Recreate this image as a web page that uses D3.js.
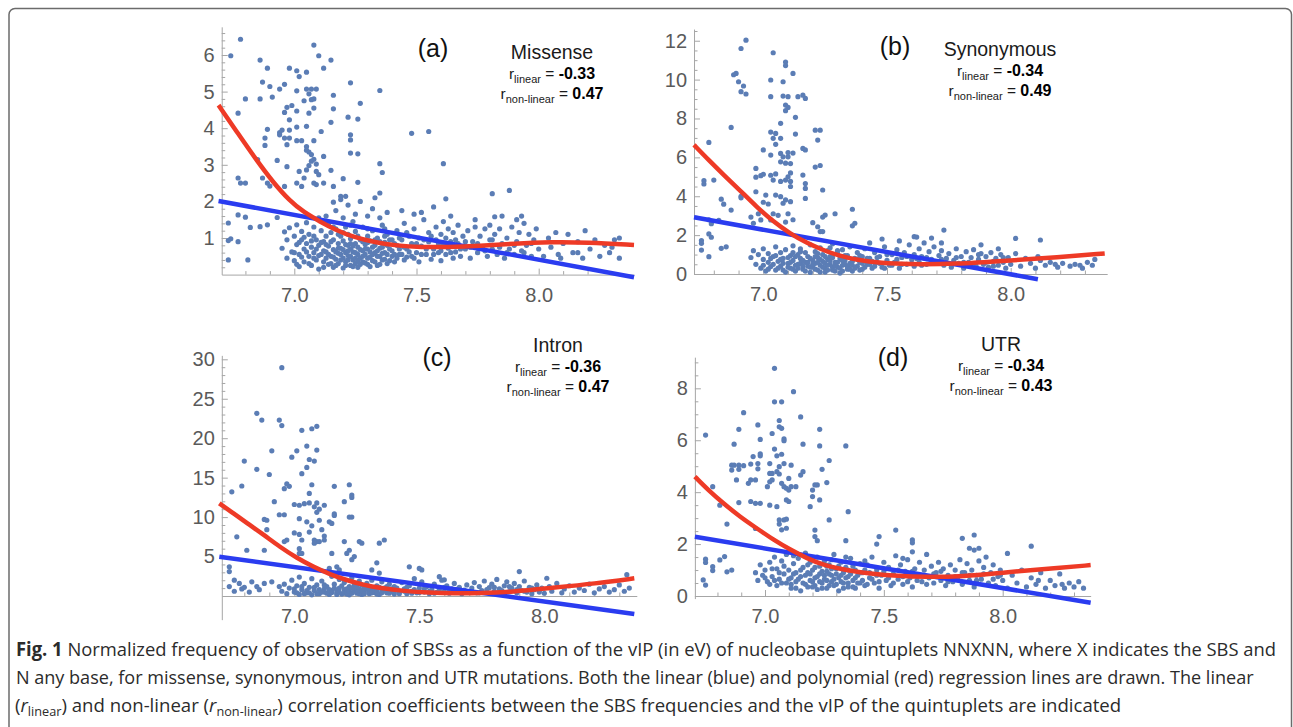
<!DOCTYPE html>
<html>
<head>
<meta charset="utf-8">
<script src="https://cdn.jsdelivr.net/npm/d3@7"></script>
<style>
  body { margin: 0; background: #fff; }
</style>
</head>
<body>
<svg id="fig" width="1293" height="727"></svg>
<script>
// ---- data (x = vIP in eV, y = normalized frequency) ----

var panelNames = ["Missense", "Synonymous", "Intron", "UTR"];
var panelTags = ["(a)", "(b)", "(c)", "(d)"];
var rLinear = ["-0.33", "-0.34", "-0.36", "-0.34"];
var rNonLinear = ["0.47", "0.49", "0.47", "0.43"];

var xTicks = [7.0, 7.5, 8.0];
var yTicksA = [1, 2, 3, 4, 5, 6];
var yTicksB = [0, 2, 4, 6, 8, 10, 12];
var yTicksC = [5, 10, 15, 20, 25, 30];
var yTicksD = [0, 2, 4, 6, 8];

// linear fits (end points as drawn)
var blueA = [[6.69, 2.01], [8.39, -0.07]];
var blueB = [[6.72, 2.92], [8.11, -0.27]];
var blueC = [[6.70, 4.98], [8.36, -2.28]];
var blueD = [[6.705, 2.28], [8.37, -0.26]];

// polynomial fits (points along the red curve)
var redA = [[6.69, 4.63], [6.77, 3.85], [6.845, 3.13], [6.91, 2.55], [6.98, 2.02], [7.04, 1.70], [7.105, 1.45], [7.17, 1.22], [7.24, 1.03], [7.33, 0.88], [7.42, 0.79], [7.52, 0.75], [7.62, 0.75], [7.76, 0.78], [7.90, 0.85], [8.05, 0.89], [8.20, 0.88], [8.39, 0.81]];
var redB = [[6.72, 6.64], [6.78, 5.85], [6.84, 5.10], [6.906, 4.30], [6.973, 3.45], [7.04, 2.70], [7.108, 2.08], [7.175, 1.60], [7.243, 1.22], [7.31, 0.93], [7.377, 0.72], [7.48, 0.56], [7.58, 0.50], [7.78, 0.51], [7.98, 0.68], [8.19, 0.86], [8.38, 1.06]];
var redC = [[6.70, 11.75], [6.76, 10.4], [6.81, 9.25], [6.876, 7.8], [6.943, 6.2], [7.009, 4.85], [7.076, 3.7], [7.143, 2.75], [7.21, 2.0], [7.276, 1.42], [7.343, 1.0], [7.44, 0.62], [7.54, 0.42], [7.64, 0.33], [7.74, 0.34], [7.88, 0.55], [8.01, 0.97], [8.21, 1.6], [8.36, 2.24]];
var redD = [[6.705, 4.6], [6.765, 4.05], [6.825, 3.57], [6.895, 3.05], [6.965, 2.61], [7.035, 2.17], [7.105, 1.79], [7.175, 1.46], [7.245, 1.19], [7.35, 0.98], [7.455, 0.85], [7.56, 0.77], [7.666, 0.73], [7.834, 0.75], [8.017, 0.92], [8.227, 1.07], [8.37, 1.19]];

// scatter points
var ptsA = [
[6.78,6.43],[6.74,5.98],[7.08,6.27],[7.10,5.98],[7.15,5.86],[7.12,5.64],[6.86,5.86],[6.89,5.64],[6.98,5.64],[7.01,5.57],[7.05,5.53],[7.02,5.41],[6.87,5.26],[6.90,5.14],[6.96,5.20],[6.94,5.07],[7.01,5.02],[7.05,5.07],[7.07,5.07],[7.09,5.07],[7.06,4.94],[7.08,4.80],[7.07,4.78],[7.16,4.90],[7.23,5.24],[7.35,5.03],[6.80,4.80],[6.86,4.80],[6.91,4.85],[6.97,4.57],[6.99,4.62],[7.04,4.75],[7.08,4.55],[7.16,4.53],[7.27,4.68],[6.77,4.41],[6.96,4.43],[7.01,4.47],[7.06,4.41],[7.22,4.30],[7.26,4.25],[7.15,4.16],[6.98,4.23],[6.89,3.97],[6.94,3.88],[6.95,3.95],[6.98,3.95],[6.94,3.82],[7.01,4.03],[7.05,4.05],[7.11,3.91],[6.88,3.73],[6.96,3.73],[6.98,3.73],[7.23,3.82],[7.23,3.68],[7.48,3.86],[7.55,3.91],[7.01,3.66],[7.03,3.66],[7.08,3.66],[7.05,3.50],[7.05,3.40],[7.06,3.35],[7.07,3.28],[7.08,3.15],[7.07,3.10],[7.09,3.02],[7.06,2.98],[6.88,3.53],[6.97,3.55],[7.12,3.23],[7.23,3.32],[7.26,3.30],[7.35,3.03],[6.85,3.14],[6.93,3.12],[6.97,2.95],[7.02,2.82],[7.05,2.86],[7.09,2.82],[7.15,2.85],[7.04,2.64],[7.10,2.73],[7.61,3.03],[7.36,2.79],[6.77,2.64],[6.80,2.50],[6.87,2.64],[6.89,2.50],[6.90,2.42],[6.78,2.50],[6.96,2.41],[7.01,2.50],[7.03,2.41],[7.08,2.50],[7.09,2.46],[7.12,2.50],[7.16,2.41],[7.20,2.62],[7.26,2.52],[7.21,2.14],[7.19,2.14],[7.16,1.98],[7.35,2.23],[7.81,2.21],[7.88,2.30],[7.62,2.07],[6.73,1.41],[6.77,1.63],[6.80,1.57],[6.82,1.29],[6.86,1.31],[6.89,1.36],[6.93,1.56],[6.73,0.93],[6.74,0.98],[6.77,0.90],[6.73,0.40],[6.81,0.40],
[6.95,0.72],[6.96,1.17],[6.97,0.45],[6.97,0.95],[6.98,1.28],[6.99,0.62],[7.00,0.38],[7.00,1.05],[7.01,0.82],[7.01,1.36],[7.02,0.22],[7.02,0.55],[7.03,0.95],[7.03,1.18],[7.04,0.70],[7.04,0.35],[7.05,1.42],[7.05,0.85],[7.06,0.50],[7.06,1.10],[7.07,0.25],[7.07,0.75],[7.08,1.30],[7.08,0.60],[7.09,0.95],[7.09,0.40],[7.10,1.55],[7.10,0.15],[7.10,0.80],[7.11,1.20],[7.11,0.55],
[7.12,0.35],[7.12,0.90],[7.13,0.62],[7.13,1.05],[7.14,0.28],[7.14,0.78],[7.14,1.38],[7.15,0.50],[7.15,1.15],[7.16,0.20],[7.16,0.68],[7.16,0.95],[7.17,0.42],[7.17,1.25],[7.18,0.58],[7.18,0.85],[7.18,0.30],[7.19,1.05],[7.19,0.72],[7.20,0.45],[7.20,0.18],[7.20,0.92],[7.21,1.30],[7.21,0.60],[7.21,0.35],[7.22,0.80],[7.22,1.10],[7.22,0.52],[7.23,0.25],[7.23,0.70],[7.23,0.98],[7.24,0.40],[7.24,1.45],[7.24,0.62],[7.25,0.85],[7.25,0.30],[7.25,1.18],[7.26,0.55],[7.26,0.75],[7.26,0.20],[7.27,0.95],[7.27,0.45],[7.28,0.65],[7.28,1.30],[7.28,0.35],[7.29,0.82],[7.29,0.55],[7.30,1.05],[7.30,0.28],[7.30,0.70],[7.31,0.48],[7.31,0.92],[7.32,0.38],[7.32,1.20],[7.33,0.60],[7.33,0.80],[7.34,0.25],[7.34,1.00],[7.35,0.50],[7.35,0.72],[7.36,1.35],[7.36,0.40],[7.37,0.88],[7.37,0.60],[7.38,0.30],[7.38,1.10],[7.39,0.70],[7.40,0.50],[7.40,0.95],
[7.13,1.60],[7.17,1.75],[7.20,1.55],[7.22,1.90],[7.25,1.65],[7.27,2.00],[7.30,1.60],[7.32,1.80],[7.35,1.55],[7.38,1.70],[7.33,2.10],[7.19,2.05],
[7.41,0.35],[7.42,0.80],[7.42,1.20],[7.43,0.55],[7.44,0.95],[7.45,0.40],[7.45,1.40],[7.46,0.70],[7.47,1.05],[7.48,0.50],[7.48,0.85],[7.49,1.25],[7.50,0.60],[7.51,0.35],[7.51,1.00],[7.52,0.78],[7.53,1.50],[7.54,0.55],[7.55,0.90],[7.55,1.15],[7.56,0.42],[7.57,0.70],[7.58,1.30],[7.58,0.95],[7.59,0.60],[7.60,1.10],[7.60,0.38],[7.61,0.80],[7.61,1.45],[7.62,1.00],[7.62,0.55],[7.63,1.25],[7.63,0.72],[7.64,0.90],[7.65,0.45],[7.65,1.15],[7.66,0.62],[7.67,1.35],[7.67,0.85],[7.68,0.50],[7.69,1.05],[7.70,0.70],
[7.44,1.75],[7.49,1.65],[7.57,1.85],[7.64,1.60],[7.52,1.70],
[7.71,1.20],[7.72,0.45],[7.73,0.90],[7.74,1.30],[7.75,0.60],[7.76,1.05],[7.77,0.75],[7.78,1.25],[7.79,0.50],[7.80,0.95],[7.80,1.35],[7.81,0.70],[7.82,1.10],[7.83,0.55],[7.84,1.25],[7.85,0.85],[7.85,1.60],[7.86,0.45],[7.87,1.00],[7.88,0.70],[7.89,1.30],[7.90,0.55],[7.91,1.50],[7.91,0.90],[7.92,1.15],[7.93,0.65],[7.94,1.40],[7.95,0.80],[7.96,1.10],[7.97,0.50],[7.98,0.95],[7.99,1.25],[8.00,0.70],[7.74,1.50],[7.82,1.58],[7.93,1.60],
[8.02,0.50],[8.04,1.00],[8.05,0.75],[8.07,1.15],[8.09,0.45],[8.10,0.85],[8.12,1.10],[8.14,0.60],[8.16,0.90],[8.18,0.45],[8.19,1.20],[8.21,0.70],[8.23,0.95],[8.25,0.50],[8.27,0.80],[8.29,0.60],[8.31,0.95],[8.33,1.00],[8.33,0.45],[8.30,0.75],[8.08,0.55],[8.16,0.60],
[7.00,0.60],[7.01,0.28],[7.03,0.48],[7.04,1.02],[7.06,0.30],[7.07,0.92],[7.08,0.45],[7.09,0.70],[7.10,0.52],[7.11,0.88],[7.12,0.20],[7.12,0.65],[7.13,0.45],[7.13,0.82],[7.14,0.55],[7.15,0.30],[7.15,0.90],[7.16,0.48],[7.17,0.62],[7.17,0.25],[7.18,0.72],[7.18,1.10],[7.19,0.40],[7.19,0.55],[7.20,0.68],[7.20,1.15],[7.21,0.25],[7.21,0.82],[7.22,0.40],[7.22,0.65],[7.23,0.50],[7.23,0.85],[7.24,0.22],[7.24,0.78],[7.25,0.45],[7.25,0.60],[7.26,0.38],[7.26,1.05],[7.27,0.28],[7.27,0.68],[7.28,0.50],[7.28,0.90],[7.29,0.32],[7.29,0.70],[7.30,0.45],[7.30,0.88],[7.31,0.62],[7.31,0.22],[7.32,0.75],[7.32,0.55],[7.33,0.35],[7.33,0.95],[7.34,0.50],[7.34,0.65],[7.35,0.28],[7.35,0.90],[7.36,0.58],[7.36,0.75],[7.37,0.42],[7.37,1.05],[7.38,0.55],[7.38,0.80],[7.39,0.38],[7.39,0.95],[7.40,0.65],[7.41,0.55],[7.41,0.85],[7.42,0.45],[7.43,0.70],[7.43,1.00],[7.44,0.55],[7.45,0.75],[7.46,0.48],[7.46,1.15],[7.47,0.62],[7.49,0.45],[7.50,0.85],[7.52,0.55],[7.53,0.95],[7.54,0.70],[7.56,1.05],[7.57,0.55],[7.59,0.85],[7.60,0.65],[7.62,0.80],[7.64,0.60],[7.66,0.95],[7.68,0.70],[7.70,0.90],[7.72,0.75],[7.75,0.85],[7.78,0.65],[7.81,0.95],[7.84,0.75],[7.87,0.60],[7.90,0.80],[7.94,0.60],[7.97,0.85],
[7.05,0.62],[7.02,0.88],[7.08,1.05],[7.16,1.30],[7.23,1.35],[7.30,1.25],[7.37,1.25]
];

var ptsB = [
[6.93,12.03],[6.91,11.60],[7.04,11.38],[7.09,10.90],[7.09,10.72],[7.12,10.32],[6.88,10.25],[6.89,10.32],[6.90,9.89],[7.03,9.98],[7.08,9.89],[6.92,9.67],[6.91,9.38],[6.93,9.26],[7.03,9.12],[7.08,9.15],[7.10,9.12],[7.14,9.12],[7.16,9.20],[7.17,9.03],[7.09,8.69],[7.10,8.57],[7.09,8.40],[7.13,8.06],[7.07,7.75],[6.87,7.54],[7.03,7.30],[7.05,7.23],[7.21,7.40],[7.23,7.40],[7.13,7.20],[7.04,6.98],[7.07,6.98],[7.22,6.89],[6.78,6.77],[7.05,6.67],[7.16,6.46],[7.17,6.38],[7.00,6.38],[7.03,6.12],[7.07,6.20],[7.10,6.25],[7.12,6.22],[7.08,6.03],[7.10,6.03],[7.07,5.77],[7.09,5.70],[7.11,5.68],[6.97,5.43],[7.21,5.50],[7.23,5.58],[7.00,5.13],[7.03,5.08],[7.05,5.15],[7.11,5.20],[7.10,5.00],[7.16,5.09],[6.76,4.80],[6.76,4.63],[6.80,4.83],[6.97,4.98],[6.99,5.06],[7.04,4.83],[7.07,4.76],[7.09,4.83],[7.11,4.76],[7.11,4.50],[7.17,4.65],[7.17,4.40],[7.24,4.32],[6.83,3.85],[6.84,3.59],[6.87,3.29],[6.97,4.23],[7.01,4.06],[7.05,4.06],[7.07,3.98],[7.09,3.81],[7.08,3.64],[7.11,3.72],[7.17,3.89],[7.02,3.60],[7.00,3.69],[6.91,4.00],[6.91,3.92],[7.36,3.33],[6.95,2.93],[6.98,3.10],[6.99,2.78],[7.03,2.78],[6.96,2.61],[7.04,3.10],[7.06,3.02],[7.10,3.10],[7.09,2.67],[7.12,2.79],[7.25,3.03],[7.29,3.10],[7.24,2.93],[7.20,2.64],[7.22,2.43],[7.23,2.18],[7.24,2.18],[7.36,2.48],[7.37,2.61],[6.78,2.79],[6.82,2.76],[6.79,2.59],[6.78,2.06],[6.79,1.89],[6.75,1.72],[6.75,1.58],[6.75,1.23],[6.78,0.89],[6.83,1.32],[6.85,1.40],[7.73,2.26],[8.02,1.83],[8.12,1.75],[7.61,1.92],
[6.95,0.85],[6.96,1.20],[6.97,0.50],[6.98,1.00],[6.99,0.30],[7.00,0.75],[7.00,1.30],[7.01,0.15],[7.02,0.60],[7.02,1.05],[7.03,0.38],[7.04,0.90],[7.05,1.40],[7.05,0.20],[7.06,0.65],[7.07,1.10],[7.07,0.40],[7.08,0.80],[7.09,0.10],[7.09,1.25],[7.10,0.55],[7.11,0.95],[7.11,0.30],[7.12,1.45],[7.12,0.70],[7.13,0.15],[7.14,1.00],[7.14,0.50],[7.15,0.80],[7.15,1.30],[7.16,0.25],[7.17,0.60],[7.17,1.10],[7.18,0.40],[7.18,0.90],[7.19,0.08],[7.19,1.50],[7.20,0.70],[7.20,0.35],[7.21,1.15],[7.21,0.55],[7.22,0.20],[7.22,0.85],[7.23,1.35],[7.23,0.45],[7.24,0.65],[7.24,1.00],[7.25,0.10],[7.25,0.30],[7.26,0.75],[7.26,1.20],[7.27,0.50],[7.27,0.90],[7.28,0.20],[7.28,1.55],[7.29,0.60],[7.30,1.05],[7.30,0.35],[7.31,0.80],[7.31,0.05],[7.32,1.25],[7.32,0.45],[7.33,0.70],[7.34,0.25],[7.34,0.95],[7.35,1.40],[7.35,0.55],[7.36,0.15],[7.37,0.80],[7.38,1.10],[7.38,0.40],[7.39,0.60],[7.40,0.90],[7.40,0.25],
[7.41,1.30],[7.42,0.50],[7.43,0.80],[7.44,0.30],[7.45,1.10],[7.46,0.60],[7.47,0.90],[7.48,0.35],[7.49,1.40],[7.50,0.70],[7.51,0.45],[7.52,1.00],[7.53,0.60],[7.54,1.25],[7.55,0.30],[7.56,0.85],[7.57,1.10],[7.58,0.50],[7.59,1.50],[7.60,0.75],[7.61,1.00],[7.61,0.40],[7.62,1.90],[7.63,1.30],[7.63,0.60],[7.64,0.90],[7.65,1.60],[7.66,0.50],[7.67,1.15],[7.68,0.75],[7.69,1.40],[7.70,0.55],
[7.48,1.80],[7.43,1.60],[7.55,1.70],[7.68,1.85],[7.72,1.60],[7.88,1.50],[7.95,1.30],
[7.71,0.95],[7.72,1.20],[7.73,0.45],[7.74,0.80],[7.75,1.05],[7.76,0.35],[7.77,0.70],[7.78,1.30],[7.79,0.55],[7.80,0.90],[7.81,0.30],[7.82,1.15],[7.83,0.60],[7.84,0.85],[7.85,1.25],[7.86,0.40],[7.87,0.75],[7.88,1.05],[7.89,0.50],[7.90,0.90],[7.91,0.35],[7.92,1.10],[7.93,0.65],[7.94,0.80],[7.95,0.45],[7.96,1.00],[7.97,0.60],[7.98,0.30],[7.99,0.85],[8.00,0.50],
[8.02,1.05],[8.04,0.40],[8.06,0.80],[8.08,0.55],[8.10,0.30],[8.12,0.70],[8.14,0.45],[8.16,0.60],[8.19,0.35],[8.21,0.55],[8.24,0.40],[8.26,0.50],[8.29,0.30],[8.31,0.60],[8.33,0.45],[8.34,0.75],[8.11,0.90],[8.18,0.50],[8.28,0.45],
[7.00,0.45],[7.02,0.25],[7.03,0.80],[7.04,0.50],[7.06,0.30],[7.07,0.75],[7.08,0.20],[7.08,0.55],[7.10,0.35],[7.10,0.85],[7.11,0.60],[7.12,0.25],[7.13,0.45],[7.13,0.90],[7.14,0.30],[7.15,0.55],[7.16,0.70],[7.16,0.40],[7.17,0.15],[7.18,0.60],[7.19,0.35],[7.19,0.80],[7.20,0.50],[7.21,0.25],[7.21,0.90],[7.22,0.60],[7.23,0.10],[7.23,0.75],[7.24,0.35],[7.25,0.55],[7.25,0.90],[7.26,0.20],[7.26,0.45],[7.27,0.70],[7.28,0.35],[7.28,0.85],[7.29,0.15],[7.29,0.45],[7.30,0.60],[7.31,0.30],[7.32,0.70],[7.32,0.15],[7.33,0.50],[7.33,0.95],[7.34,0.40],[7.35,0.25],[7.36,0.65],[7.36,0.45],[7.37,0.30],[7.38,0.75],[7.39,0.20],[7.39,0.95],[7.40,0.55],[7.41,0.35],[7.42,0.80],[7.43,0.50],[7.44,0.65],[7.45,0.40],[7.46,0.85],[7.47,0.55],[7.49,0.30],[7.50,1.00],[7.52,0.45],[7.54,0.75],[7.56,0.50],[7.58,0.90],[7.60,0.55],[7.62,0.80],[7.64,0.45],[7.66,0.85],[7.69,0.60],[7.72,0.75],[7.75,0.55],[7.78,0.85],[7.81,0.60],[7.84,0.45],[7.87,1.00],[7.90,0.60],[7.93,0.40],[7.97,0.85],
[7.05,0.95],[7.15,1.15],[7.22,1.05],[7.30,1.20],[7.27,1.35],[7.12,1.10]
];

var ptsC = [
[6.95,28.94],[6.85,23.15],[6.87,22.30],[6.94,22.30],[6.95,21.60],[7.03,21.00],[7.07,21.20],[7.09,21.50],[6.85,16.05],[6.80,17.10],[6.79,13.94],[6.75,13.20],[6.91,18.40],[6.90,15.40],[7.01,18.40],[6.99,17.60],[7.05,19.00],[7.06,17.30],[7.08,17.10],[7.05,16.30],[7.03,15.50],[7.09,18.50],[6.97,14.20],[6.98,13.90],[6.96,13.60],[7.07,14.10],[7.06,13.00],[6.92,11.96],[6.94,10.30],[6.96,10.30],[6.88,9.70],[6.89,9.60],[6.89,8.40],[7.00,11.60],[7.02,11.50],[7.04,11.70],[7.06,11.80],[7.08,11.30],[7.09,11.80],[7.09,10.60],[7.10,11.00],[7.10,9.60],[7.12,11.50],[7.16,13.90],[7.20,11.96],[7.22,14.10],[7.23,12.80],[7.23,12.50],[7.22,10.00],[7.23,10.00],[7.16,10.40],[7.16,10.20],[7.14,9.40],[7.15,9.20],[7.02,9.80],[7.05,9.40],[7.00,8.00],[7.02,7.80],[7.03,7.10],[7.06,8.10],[7.08,7.10],[7.09,6.90],[7.11,8.40],[7.12,7.60],[7.07,8.90],[6.77,7.50],[6.81,5.80],[6.88,5.80],[6.96,6.90],[6.97,7.10],[7.02,6.00],[7.02,5.40],[7.03,5.40],[7.08,6.70],[7.10,6.90],[7.12,7.10],[7.26,6.90],[7.27,6.70],[7.36,7.10],[7.34,6.70],[7.21,5.40],[7.22,5.80],[7.24,5.00],[7.23,4.60],[7.20,6.90],[7.15,5.40],[7.17,3.70],[7.14,3.50],[7.18,3.30],[7.33,4.20],[7.31,3.30],[7.34,2.90],[7.46,3.70],[7.51,3.30],[7.50,3.50],[7.58,2.45],[7.60,2.05],[7.90,3.10],[8.01,2.25],[8.33,2.70],[6.74,3.70],[6.74,3.10],[6.76,2.00],[6.74,1.20],[6.78,1.60],[6.79,0.90],[6.80,1.10],[6.83,1.80],[6.85,1.20],[6.88,1.60],[6.91,1.80],[6.94,1.20],[6.76,0.60],[6.82,0.50],[6.86,0.80],
[6.95,0.60],[6.96,1.50],[6.97,0.30],[6.98,1.00],[6.99,2.00],[7.00,0.50],[7.01,1.30],[7.02,0.20],[7.02,2.40],[7.03,0.80],[7.04,1.60],[7.05,0.40],[7.06,1.10],[7.07,2.20],[7.07,0.15],[7.08,0.70],[7.09,1.40],[7.10,0.30],[7.11,1.90],[7.12,0.90],[7.12,0.50],[7.13,1.20],[7.14,0.20],[7.15,2.50],[7.15,0.70],[7.16,1.50],[7.17,0.40],[7.18,1.00],[7.18,2.10],[7.19,0.25],[7.20,0.80],[7.20,1.70],[7.21,0.50],[7.22,1.20],[7.22,0.15],[7.23,2.30],[7.24,0.65],[7.24,1.40],[7.25,0.35],[7.26,0.90],[7.26,1.90],[7.27,0.20],[7.28,1.10],[7.28,0.55],[7.29,1.60],[7.30,0.30],[7.31,0.85],[7.31,2.00],[7.32,0.45],[7.33,1.30],[7.34,0.20],[7.35,0.70],[7.35,1.80],[7.36,1.00],[7.37,0.40],[7.38,1.50],[7.39,0.60],[7.40,0.25],[7.40,1.20],
[7.42,0.50],[7.43,1.70],[7.44,0.90],[7.45,0.30],[7.46,1.30],[7.47,0.60],[7.48,2.20],[7.49,0.40],[7.50,1.00],[7.51,1.80],[7.52,0.50],[7.53,1.20],[7.54,0.30],[7.55,0.80],[7.56,1.50],[7.57,0.45],[7.58,1.00],[7.59,2.00],[7.60,0.60],[7.61,1.30],[7.62,0.35],[7.63,0.90],[7.64,1.60],[7.65,0.50],[7.66,1.10],[7.67,0.30],[7.68,0.75],[7.69,1.40],[7.70,0.50],
[7.71,1.00],[7.72,1.70],[7.73,0.40],[7.74,1.20],[7.75,0.70],[7.76,1.90],[7.77,0.45],[7.78,1.05],[7.79,1.50],[7.80,0.60],[7.81,2.10],[7.82,0.90],[7.83,0.35],[7.84,1.30],[7.85,1.80],[7.86,0.55],[7.87,1.00],[7.88,1.60],[7.89,0.40],[7.90,1.20],[7.91,0.70],[7.92,1.90],[7.93,0.50],[7.94,1.10],[7.95,0.30],[7.96,0.80],[7.97,1.40],[7.98,0.50],[7.99,1.00],[8.00,0.35],
[8.02,1.20],[8.03,0.60],[8.05,1.60],[8.07,0.40],[8.08,0.90],[8.10,1.30],[8.12,0.50],[8.14,1.00],[8.16,0.70],[8.18,1.50],[8.20,0.40],[8.22,0.90],[8.24,1.20],[8.26,0.50],[8.28,0.80],[8.30,1.40],[8.32,0.60],[8.34,1.00],
[7.00,0.90],[7.01,0.40],[7.03,1.20],[7.04,0.30],[7.05,0.70],[7.06,0.40],[7.08,1.10],[7.09,0.30],[7.10,0.80],[7.11,0.50],[7.12,1.40],[7.13,0.35],[7.14,0.80],[7.15,0.45],[7.16,1.00],[7.17,0.20],[7.17,0.75],[7.18,0.50],[7.19,1.30],[7.20,0.40],[7.21,0.90],[7.21,0.25],[7.22,0.60],[7.23,1.00],[7.23,0.35],[7.24,0.80],[7.25,0.55],[7.25,1.20],[7.26,0.30],[7.27,0.70],[7.27,1.40],[7.28,0.30],[7.29,0.90],[7.30,0.55],[7.30,1.20],[7.31,0.40],[7.32,0.95],[7.33,0.60],[7.33,0.25],[7.34,1.10],[7.35,0.40],[7.36,0.65],[7.37,1.20],[7.38,0.35],[7.39,0.90],[7.40,0.55],[7.41,1.00],[7.42,0.30],[7.44,0.60],[7.45,1.10],[7.47,0.35],[7.48,0.80],[7.50,0.45],[7.52,0.90],[7.54,0.60],[7.56,0.35],[7.58,0.70],[7.60,1.10],[7.62,0.55],[7.65,0.85],[7.68,0.45],[7.71,0.60],[7.74,0.40],[7.77,0.80],[7.80,1.10],[7.83,0.70],[7.86,1.20],[7.89,0.80],[7.92,0.60],[7.95,1.00],[7.98,0.70]
];

var ptsD = [
[7.04,8.77],[7.12,7.87],[7.04,7.48],[7.07,7.48],[7.15,6.90],[6.91,7.06],[7.06,6.76],[7.06,6.52],[7.07,6.46],[7.23,6.42],[6.89,6.42],[6.97,6.59],[7.03,6.26],[7.08,6.05],[7.08,5.98],[6.75,6.20],[6.98,6.03],[7.16,5.85],[6.87,5.85],[7.23,5.78],[7.34,5.78],[6.95,5.37],[6.98,5.40],[6.98,5.48],[7.04,5.66],[7.05,5.40],[7.07,5.46],[6.86,5.04],[6.87,5.04],[6.89,4.88],[6.86,4.85],[6.89,5.04],[6.91,5.02],[6.94,5.08],[6.97,5.10],[6.97,4.90],[7.02,4.72],[7.03,4.72],[7.05,4.79],[7.02,5.10],[7.06,4.98],[7.08,5.10],[7.06,4.70],[7.11,5.04],[7.10,4.53],[7.15,4.66],[7.16,4.79],[7.24,4.88],[7.27,5.22],[6.94,4.47],[6.93,4.34],[6.96,4.47],[7.02,4.40],[7.01,4.21],[7.03,4.47],[7.07,4.34],[7.08,4.21],[7.09,4.15],[7.11,4.21],[7.10,4.08],[7.13,4.21],[7.21,4.28],[7.22,4.28],[7.20,4.08],[7.26,4.37],[6.88,4.47],[6.78,4.21],[6.89,3.60],[6.94,3.64],[6.96,3.57],[6.98,3.57],[7.02,3.50],[7.05,3.44],[7.09,3.70],[7.10,3.64],[7.19,3.44],[7.20,3.83],[7.23,3.70],[7.35,3.25],[6.81,3.50],[6.84,2.77],[7.06,2.93],[7.08,2.93],[7.09,2.96],[7.06,2.77],[7.07,2.55],[7.09,2.61],[7.27,2.93],[6.96,2.60],[7.21,2.54],[7.21,2.29],[7.22,2.13],[7.34,2.13],[7.55,2.54],[7.62,2.16],[7.62,2.05],[7.48,2.29],[7.47,2.00],[7.83,2.22],[7.88,2.35],[7.86,1.84],[7.88,1.77],[7.90,1.84],[8.12,1.92],[8.02,1.64],[6.75,1.42],[6.75,1.29],[6.78,1.13],[6.78,0.98],[6.81,1.39],[6.83,1.52],[6.84,0.93],[6.86,1.00],[6.74,0.62],[6.75,0.42],
[6.96,0.90],[6.97,0.60],[6.98,1.20],[6.99,0.80],[7.00,1.00],[7.01,0.55],[7.02,1.30],[7.03,0.75],[7.04,1.50],[7.05,0.40],[7.05,1.05],[7.06,0.65],[7.07,1.35],[7.08,0.85],[7.09,0.50],[7.09,1.60],[7.10,1.00],[7.11,0.30],[7.11,0.70],[7.12,1.25],[7.13,0.55],[7.13,0.90],[7.14,1.45],[7.15,0.20],[7.15,0.75],[7.16,1.10],[7.17,0.45],[7.17,1.65],[7.18,0.90],[7.19,0.60],[7.19,1.30],[7.20,0.35],[7.20,1.00],[7.21,0.70],[7.22,1.50],[7.22,0.25],[7.23,0.85],[7.23,1.15],[7.24,0.50],[7.25,1.35],[7.25,0.65],[7.26,0.95],[7.26,0.30],[7.27,1.20],[7.28,0.55],[7.28,0.80],[7.29,1.60],[7.29,0.40],[7.30,1.05],[7.31,0.70],[7.31,0.20],[7.32,1.30],[7.33,0.50],[7.33,0.90],[7.34,1.10],[7.35,0.35],[7.35,0.75],[7.36,1.45],[7.37,0.60],[7.38,1.00],[7.38,0.30],[7.39,0.80],[7.40,1.25],[7.40,0.50],
[7.41,0.90],[7.42,0.40],[7.43,1.20],[7.44,0.70],[7.45,1.50],[7.46,0.50],[7.47,1.00],[7.48,0.30],[7.49,0.80],[7.50,1.30],[7.51,0.60],[7.52,1.10],[7.53,0.40],[7.54,0.85],[7.55,1.55],[7.56,0.65],[7.57,1.20],[7.58,0.45],[7.59,0.95],[7.60,1.40],[7.61,0.70],[7.62,1.70],[7.62,0.35],[7.63,1.05],[7.64,0.80],[7.65,1.30],[7.66,0.55],[7.67,1.00],[7.68,1.60],[7.69,0.70],[7.70,1.15],
[7.71,0.50],[7.72,0.90],[7.73,1.30],[7.74,0.60],[7.75,1.05],[7.76,0.40],[7.77,0.80],[7.78,1.20],[7.79,0.55],[7.80,1.00],[7.81,0.70],[7.82,1.40],[7.83,0.45],[7.84,0.90],[7.85,1.25],[7.86,0.60],[7.87,1.00],[7.88,0.35],[7.89,0.80],[7.90,1.35],[7.91,0.65],[7.92,1.10],[7.93,1.50],[7.94,0.50],[7.95,0.90],[7.96,1.20],[7.97,0.40],[7.98,0.75],[7.99,1.00],[8.00,0.60],
[8.02,0.30],[8.04,0.80],[8.06,0.50],[8.08,1.00],[8.10,0.35],[8.12,0.70],[8.14,0.45],[8.16,0.90],[8.18,0.30],[8.20,0.60],[8.22,0.40],[8.24,0.85],[8.26,0.30],[8.28,0.50],[8.30,0.35],[8.32,0.55],[8.34,0.30],[8.15,0.60],[8.25,0.45],
[7.00,0.70],[7.02,0.45],[7.03,1.05],[7.04,0.60],[7.06,0.90],[7.07,0.50],[7.08,1.15],[7.10,0.65],[7.11,0.45],[7.12,0.85],[7.13,0.30],[7.14,0.65],[7.15,1.00],[7.16,0.50],[7.17,0.80],[7.18,0.35],[7.18,1.20],[7.19,0.85],[7.20,0.55],[7.21,1.10],[7.21,0.40],[7.22,0.75],[7.23,0.55],[7.24,0.95],[7.24,0.30],[7.25,0.80],[7.26,0.60],[7.26,1.15],[7.27,0.40],[7.27,0.85],[7.28,1.05],[7.29,0.65],[7.30,0.45],[7.30,0.85],[7.31,1.15],[7.32,0.55],[7.32,0.80],[7.33,0.30],[7.34,0.70],[7.35,1.00],[7.35,0.50],[7.36,0.85],[7.37,0.35],[7.37,1.15],[7.38,0.70],[7.39,0.50],[7.40,0.90],[7.41,0.60],[7.42,1.00],[7.43,0.45],[7.44,0.90],[7.45,0.65],[7.47,0.80],[7.48,0.55],[7.50,0.95],[7.52,0.70],[7.54,0.50],[7.56,1.00],[7.58,0.75],[7.60,0.55],[7.62,0.95],[7.64,0.60],[7.66,0.80],[7.68,0.45],[7.71,0.85],[7.74,0.95],[7.77,0.55],[7.80,0.75],[7.83,0.90],[7.86,0.80],[7.89,0.60],[7.92,0.85],[7.96,0.65],[7.99,0.80],
[7.12,1.55],[7.20,1.45],[7.28,1.40],[7.34,1.50],[7.42,1.35],[7.58,1.45]
];

var captionLines = [
  "Normalized frequency of observation of SBSs as a function of the vIP (in eV) of nucleobase quintuplets NNXNN, where X indicates the SBS and",
  "N any base, for missense, synonymous, intron and UTR mutations. Both the linear (blue) and polynomial (red) regression lines are drawn. The linear",
  ") correlation coefficients between the SBS frequencies and the vIP of the quintuplets are indicated"
];

// ---- layout (pixels) ----
var panels = [
  { pts: ptsA, blue: blueA, red: redA, yTicks: yTicksA, yMinor: 0.2,
    xPx: [294.3, 538.7], yPx: [274.6, 238.0], xExt: [6.703, 8.39], yExt: [0, 6.77],
    tag: [433, 57], title: [552, 59] },
  { pts: ptsB, blue: blueB, red: redB, yTicks: yTicksB, yMinor: 0.5,
    xPx: [763.3, 1010.7], yPx: [274, 254.56], xExt: [6.72, 8.39], yExt: [0, 12.6],
    tag: [895, 55], title: [1000, 56] },
  { pts: ptsC, blue: blueC, red: redC, yTicks: yTicksC, yMinor: 1,
    xPx: [294.3, 544.3], yPx: [596, 588.11], xExt: [6.71, 8.37], yExt: [-3, 30.5],
    tag: [437, 366], title: [558, 352] },
  { pts: ptsD, blue: blueD, red: redD, yTicks: yTicksD, yMinor: 0.5,
    xPx: [765, 1002.7], yPx: [596, 570.04], xExt: [6.705, 8.37], yExt: [-0.1, 9.2],
    tag: [893, 366], title: [1001, 351] }
];

var svg = d3.select("#fig");

// frame
svg.append("rect")
    .attr("x", 9).attr("y", 8.5)
    .attr("width", 1282.5).attr("height", 760)
    .attr("rx", 6)
    .style("fill", "none")
    .style("stroke", "#6b6b6b")
    .style("stroke-width", 1.5);

var tickFont = "'Liberation Sans', Arial, Helvetica, sans-serif";

panels.forEach(function(p, i) {
    var base = d3.scaleLinear().domain([7, 8]).range(p.xPx);
    var x = d3.scaleLinear().domain(p.xExt).range(p.xExt.map(base));
    var ybase = d3.scaleLinear().domain([0, 1]).range(p.yPx);
    var y = d3.scaleLinear().domain(p.yExt).range(p.yExt.map(ybase));

    var g = svg.append("g");
    var y0 = y(0), x0 = x(p.xExt[0]);

    // x axis: minor ticks then major ticks with labels
    var xMinor = d3.range(68, 84).map(function(v) { return v / 10; })
        .filter(function(v) { return v > p.xExt[0] && v < p.xExt[1] && xTicks.indexOf(v) < 0; });
    g.append("g")
        .attr("transform", "translate(0," + y0 + ")")
        .call(d3.axisBottom(x).tickValues(xMinor).tickSizeInner(-3.5).tickSizeOuter(0).tickFormat(""))
        .call(function(s) { s.select(".domain").remove(); })
        .attr("color", "#a6a6a6");
    var xa = g.append("g")
        .attr("transform", "translate(0," + y0 + ")")
        .call(d3.axisBottom(x).tickValues(xTicks).tickSizeInner(-6).tickSizeOuter(0)
            .tickPadding(13).tickFormat(d3.format(".1f")))
        .attr("color", "#a6a6a6")
        .attr("font-size", 20)
        .attr("font-family", tickFont);
    xa.selectAll("text").style("fill", "#5a5a5a");

    // y axis
    var yMinorVals = d3.range(p.yMinor, p.yExt[1], p.yMinor)
        .map(function(v) { return +v.toFixed(2); })
        .filter(function(v) { return p.yTicks.indexOf(v) < 0; });
    g.append("g")
        .attr("transform", "translate(" + x0 + ",0)")
        .call(d3.axisLeft(y).tickValues(yMinorVals).tickSizeInner(-3.5).tickSizeOuter(0).tickFormat(""))
        .call(function(s) { s.select(".domain").remove(); })
        .attr("color", "#a6a6a6");
    var ya = g.append("g")
        .attr("transform", "translate(" + x0 + ",0)")
        .call(d3.axisLeft(y).tickValues(p.yTicks).tickSizeInner(-6).tickSizeOuter(0)
            .tickPadding(7).tickFormat(d3.format("d")))
        .attr("color", "#a6a6a6")
        .attr("font-size", 20)
        .attr("font-family", tickFont);
    ya.selectAll("text").style("fill", "#5a5a5a");

    // points
    g.append("g").selectAll("circle")
        .data(p.pts)
        .enter().append("circle")
        .attr("cx", function(d) { return x(d[0]); })
        .attr("cy", function(d) { return y(d[1]); })
        .attr("r", 2.6)
        .style("fill", "#5b7db5");

    var line = d3.line()
        .x(function(d) { return x(d[0]); })
        .y(function(d) { return y(d[1]); });

    g.append("path")
        .datum(p.blue)
        .attr("d", line)
        .style("fill", "none")
        .style("stroke", "#2a3cf0")
        .style("stroke-width", 4.5);

    g.append("path")
        .datum(p.red)
        .attr("d", line.curve(d3.curveBasis))
        .style("fill", "none")
        .style("stroke", "#ee3a26")
        .style("stroke-width", 4.5);

    // panel tag and title
    g.append("text")
        .attr("x", p.tag[0]).attr("y", p.tag[1])
        .attr("text-anchor", "middle")
        .style("font-family", tickFont)
        .style("font-size", "25px")
        .style("fill", "#111")
        .text(panelTags[i]);

    g.append("text")
        .attr("x", p.title[0]).attr("y", p.title[1])
        .attr("text-anchor", "middle")
        .style("font-family", tickFont)
        .style("font-size", "19.5px")
        .style("fill", "#1a1a1a")
        .text(panelNames[i]);

    [[rLinear[i], "linear", 20], [rNonLinear[i], "non-linear", 39.5]].forEach(function(r) {
        var t = g.append("text")
            .attr("x", p.title[0]).attr("y", p.title[1] + r[2])
            .attr("text-anchor", "middle")
            .style("font-family", tickFont)
            .style("font-size", "15.5px")
            .style("fill", "#1a1a1a");
        t.append("tspan").text("r");
        t.append("tspan").attr("dy", 4).style("font-size", "11px").text(r[1]);
        t.append("tspan").attr("dy", -4).text(" = ");
        t.append("tspan").style("font-weight", "bold").style("font-size", "16px").style("fill", "#000").text(r[0]);
    });
});

// caption
var capFont = "'Open Sans', 'Noto Sans', sans-serif";
var capWidths = [1261, 1239, 1107];
var capBase = [656, 684, 712];
var capX = [16, 16, 15];

captionLines.forEach(function(s, i) {
    var t = svg.append("text")
        .attr("x", 0).attr("y", 0)
        .style("font-family", capFont)
        .style("font-size", "19px")
        .style("fill", "#2b2b2b");
    if (i === 0) {
        t.append("tspan").style("font-weight", "bold").text("Fig. 1");
        t.append("tspan").text(" " + s);
    } else if (i === 2) {
        t.append("tspan").text("(");
        t.append("tspan").style("font-style", "italic").text("r");
        t.append("tspan").attr("dy", 4).style("font-size", "13px").text("linear");
        t.append("tspan").attr("dy", -4).text(") and non-linear (");
        t.append("tspan").style("font-style", "italic").text("r");
        t.append("tspan").attr("dy", 4).style("font-size", "13px").text("non-linear");
        t.append("tspan").attr("dy", -4).text(s);
    } else {
        t.text(s);
    }
    var w = t.node().getComputedTextLength();
    t.attr("transform", "translate(" + capX[i] + "," + capBase[i] + ") scale(" + (capWidths[i] / w) + ",1)");
});
</script>
</body>
</html>
